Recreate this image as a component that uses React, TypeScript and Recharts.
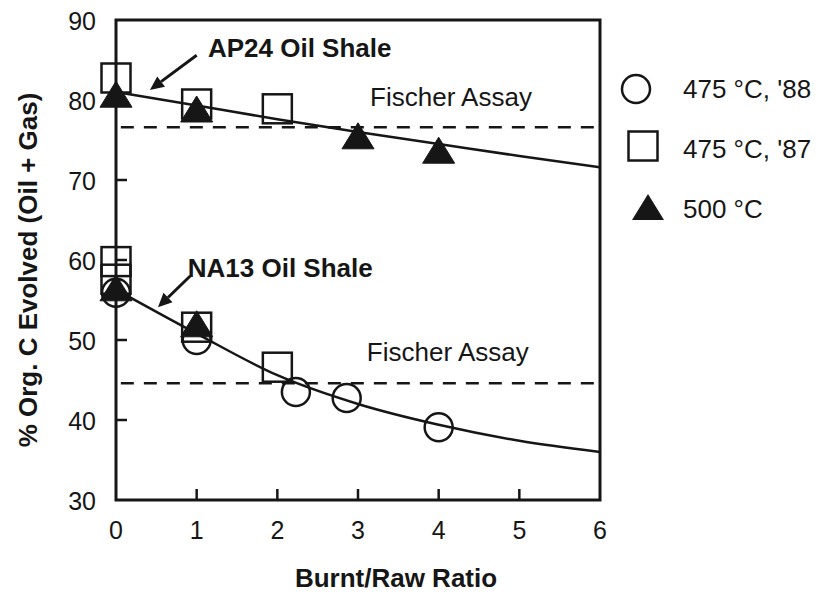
import React from 'react';
import {
  ComposedChart,
  Line,
  Scatter,
  XAxis,
  YAxis,
  ReferenceLine,
  ReferenceArea,
  ReferenceDot,
  Legend,
} from 'recharts';

const FONT = '"Liberation Sans", Arial, Helvetica, sans-serif';
const INK = '#161616';

// ---- axes ----
const xTicks = [0, 1, 2, 3, 4, 5, 6];
const yTicks = [30, 40, 50, 60, 70, 80, 90];
const xAxisTitle = 'Burnt/Raw Ratio';
const yAxisTitle = '% Org. C Evolved (Oil + Gas)';

// ---- fitted curves ----
const ap24Fit = [
  { x: 0, y: 81.0 },
  { x: 1, y: 79.3 },
  { x: 2, y: 77.6 },
  { x: 3, y: 76.0 },
  { x: 4, y: 74.5 },
  { x: 5, y: 73.0 },
  { x: 6, y: 71.6 },
];
const na13Fit = [
  { x: 0, y: 56.3 },
  { x: 1, y: 50.8 },
  { x: 2, y: 45.6 },
  { x: 3, y: 42.0 },
  { x: 4, y: 39.4 },
  { x: 5, y: 37.4 },
  { x: 6, y: 36.0 },
];

// ---- measured points ----
const circles88 = [
  { x: 0, y: 55.9 },
  { x: 1, y: 50.0 },
  { x: 2.23, y: 43.5 },
  { x: 2.86, y: 42.75 },
  { x: 4.0, y: 39.1 },
];
const squares87 = [
  { x: 0, y: 82.75 },
  { x: 1, y: 79.5 },
  { x: 2, y: 78.9 },
  { x: 0, y: 59.8 },
  { x: 0, y: 57.6 },
  { x: 1, y: 51.6 },
  { x: 2, y: 46.6 },
];
const triangles500 = [
  { x: 0, y: 80.6 },
  { x: 1, y: 78.75 },
  { x: 3, y: 75.4 },
  { x: 4, y: 73.6 },
  { x: 0, y: 56.4 },
  { x: 1, y: 51.9 },
];

// ---- Fischer assay levels ----
const fischerLevels = [76.6, 44.6];
const fischerLabel = 'Fischer Assay';
const fischerLabelPos = [
  { x: 3.15, y: 80.4 },
  { x: 3.11, y: 48.5 },
];

// ---- sample annotations ----
const sampleLabels = ['AP24 Oil Shale', 'NA13 Oil Shale'];
const sampleLabelPos = [
  { x: 1.14, y: 86.5 },
  { x: 0.89, y: 59.0 },
];
const sampleArrows = [
  [{ x: 1.0, y: 85.6 }, { x: 0.42, y: 81.25 }],
  [{ x: 0.92, y: 58.0 }, { x: 0.52, y: 54.1 }],
];

// ---- legend ----
const seriesNames = ["475 °C, '88", "475 °C, '87", '500 °C'];

const CircleShape = (p: any) => (
  <circle cx={p.cx} cy={p.cy} r={14} fill="none" stroke={INK} strokeWidth={2.5} />
);
const SquareShape = (p: any) => (
  <rect x={p.cx - 14.5} y={p.cy - 14.5} width={29} height={29} fill="none" stroke={INK} strokeWidth={2.5} />
);
const TriangleShape = (p: any) => (
  <polygon
    points={`${p.cx},${p.cy - 14} ${p.cx - 16},${p.cy + 12} ${p.cx + 16},${p.cy + 12}`}
    fill={INK}
    stroke={INK}
    strokeWidth={1}
  />
);

const XTick = (props: any) => {
  const { x, y, payload } = props;
  const inner = payload.value > 0 && payload.value < 6;
  return (
    <g>
      {inner && <line x1={x} x2={x} y1={y} y2={y - 11} stroke={INK} strokeWidth={2.5} />}
      <text x={x} y={y + 39} textAnchor="middle" fontSize={25} fill={INK} fontFamily={FONT}>
        {payload.value}
      </text>
    </g>
  );
};

const YTick = (props: any) => {
  const { x, y, payload } = props;
  const inner = payload.value > 30 && payload.value < 90;
  return (
    <g>
      {inner && <line x1={x} x2={x + 11} y1={y} y2={y} stroke={INK} strokeWidth={2.5} />}
      <text x={x - 20} y={y + 10} textAnchor="end" fontSize={25} fill={INK} fontFamily={FONT}>
        {payload.value}
      </text>
    </g>
  );
};

const Arrow = (p: any) => {
  const { x1, y1, x2, y2 } = p;
  const ang = Math.atan2(y2 - y1, x2 - x1);
  const L = 14;
  const W = 6.5;
  const bx = x2 - L * Math.cos(ang);
  const by = y2 - L * Math.sin(ang);
  const px = -Math.sin(ang) * W;
  const py = Math.cos(ang) * W;
  return (
    <g>
      <line x1={x1} y1={y1} x2={bx} y2={by} stroke={INK} strokeWidth={3} />
      <polygon points={`${x2},${y2} ${bx + px},${by + py} ${bx - px},${by - py}`} fill={INK} />
    </g>
  );
};

const legendIcon = (i: number) => {
  if (i === 0) return <circle cx={26} cy={30} r={14} fill="none" stroke={INK} strokeWidth={2.5} />;
  if (i === 1)
    return <rect x={18.5} y={12.5} width={29} height={29} fill="none" stroke={INK} strokeWidth={2.5} />;
  return <polygon points="38,15 22,41 54,41" fill={INK} />;
};

const LegendContent = () => (
  <div style={{ fontFamily: FONT, fontSize: 26, color: INK }}>
    {seriesNames.map((name, i) => (
      <div key={name} style={{ display: 'flex', alignItems: 'center', height: 60 }}>
        <svg width={73} height={60} style={{ flex: 'none' }}>
          {legendIcon(i)}
        </svg>
        <span style={{ whiteSpace: 'nowrap' }}>{name}</span>
      </div>
    ))}
  </div>
);

export default function App() {
  return (
    <div style={{ position: 'absolute', left: 0, top: 0, background: '#fff' }}>
      <ComposedChart
        width={818}
        height={603}
        margin={{ top: 20, right: 218, bottom: 0, left: 0 }}
        style={{ fontFamily: FONT }}
      >
        <XAxis
          type="number"
          dataKey="x"
          domain={[0, 6]}
          ticks={xTicks}
          height={103}
          axisLine={false}
          tickLine={false}
          tickSize={0}
          tickMargin={0}
          tick={<XTick />}
          label={{
            content: (p: any) => (
              <text
                x={p.viewBox.x + p.viewBox.width / 2 + 38}
                y={p.viewBox.y + 87}
                textAnchor="middle"
                fontSize={26}
                fontWeight={700}
                fill={INK}
                fontFamily={FONT}
              >
                {xAxisTitle}
              </text>
            ),
          }}
        />
        <YAxis
          type="number"
          dataKey="y"
          domain={[30, 90]}
          ticks={yTicks}
          width={116}
          axisLine={false}
          tickLine={false}
          tickSize={0}
          tickMargin={0}
          tick={<YTick />}
          label={{
            content: (p: any) => {
              const cx = p.viewBox.x + 28;
              const cy = p.viewBox.y + p.viewBox.height / 2 + 10;
              return (
                <text
                  transform={`translate(${cx}, ${cy}) rotate(-90)`}
                  textAnchor="middle"
                  dy="0.36em"
                  fontSize={26}
                  fontWeight={700}
                  fill={INK}
                  fontFamily={FONT}
                >
                  {yAxisTitle}
                </text>
              );
            },
          }}
        />

        <ReferenceArea x1={0} x2={6} y1={30} y2={90} fill="none" stroke={INK} strokeWidth={3} />

        {fischerLevels.map((v) => (
          <ReferenceLine
            key={v}
            segment={[
              { x: 0.06, y: v },
              { x: 6, y: v },
            ]}
            stroke={INK}
            strokeWidth={2.5}
            strokeDasharray="13 10"
          />
        ))}

        <Line
          data={ap24Fit}
          dataKey="y"
          type="monotone"
          dot={false}
          stroke={INK}
          strokeWidth={2.5}
          isAnimationActive={false}
          legendType="none"
        />
        <Line
          data={na13Fit}
          dataKey="y"
          type="monotone"
          dot={false}
          stroke={INK}
          strokeWidth={2.5}
          isAnimationActive={false}
          legendType="none"
        />

        <Scatter name={seriesNames[0]} data={circles88} dataKey="y" shape={CircleShape} isAnimationActive={false} />
        <Scatter name={seriesNames[1]} data={squares87} dataKey="y" shape={SquareShape} isAnimationActive={false} />
        <Scatter name={seriesNames[2]} data={triangles500} dataKey="y" shape={TriangleShape} isAnimationActive={false} />

        {sampleArrows.map((seg, i) => (
          <ReferenceLine key={'arr' + i} segment={seg} shape={Arrow} />
        ))}

        {sampleLabels.map((t, i) => (
          <ReferenceDot
            key={t}
            x={sampleLabelPos[i].x}
            y={sampleLabelPos[i].y}
            r={0}
            fill="none"
            stroke="none"
            label={{ value: t, position: 'right', offset: 0, fontSize: 26, fontWeight: 700, fill: INK, fontFamily: FONT }}
          />
        ))}
        {fischerLabelPos.map((p, i) => (
          <ReferenceDot
            key={'f' + i}
            x={p.x}
            y={p.y}
            r={0}
            fill="none"
            stroke="none"
            label={{ value: fischerLabel, position: 'right', offset: 0, fontSize: 26, fill: INK, fontFamily: FONT }}
          />
        ))}

        <Legend
          layout="vertical"
          align="center"
          verticalAlign="middle"
          wrapperStyle={{ left: 610, top: 59, width: 208 }}
          content={<LegendContent />}
        />
      </ComposedChart>
    </div>
  );
}
